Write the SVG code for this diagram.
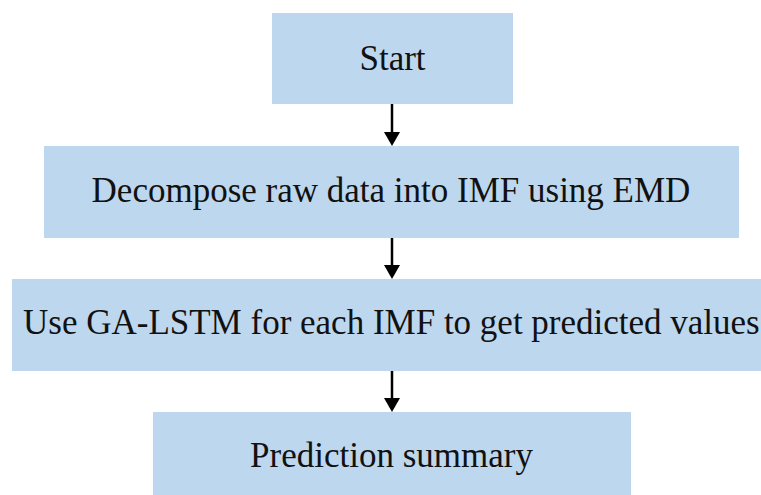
<svg xmlns="http://www.w3.org/2000/svg" width="761" height="495" viewBox="0 0 761 495">
<style>
.box{fill:#bdd7ee;}
.lbl{font-family:"Liberation Serif","Times New Roman",serif;font-size:35px;fill:#111;}
.c{text-anchor:middle;}
.conn line{stroke:#000;stroke-width:2.5;}
.conn polygon{fill:#000;}
</style>
<rect width="761" height="495" fill="#fff"/>
<g id="start">
<rect class="box" x="272" y="13" width="241" height="91"/>
<text class="lbl c" x="392.5" y="70">Start</text>
</g>
<g id="decompose">
<rect class="box" x="44" y="146" width="695" height="92"/>
<text class="lbl c" x="391" y="202">Decompose raw data into IMF using EMD</text>
</g>
<g id="galstm">
<rect class="box" x="12" y="279" width="752" height="92"/>
<text class="lbl" x="23" y="334">Use GA-LSTM for each IMF to get predicted values</text>
</g>
<g id="summary">
<rect class="box" x="153" y="412" width="478" height="90"/>
<text class="lbl c" x="391.5" y="467">Prediction summary</text>
</g>
<g class="conn" id="connectors">
<line x1="392" y1="104" x2="392" y2="133"/>
<polygon points="384,132 400,132 392,146"/>
<line x1="392" y1="238" x2="392" y2="266"/>
<polygon points="384,265 400,265 392,279"/>
<line x1="392" y1="371" x2="392" y2="399"/>
<polygon points="384,398 400,398 392,412"/>
</g>
</svg>
